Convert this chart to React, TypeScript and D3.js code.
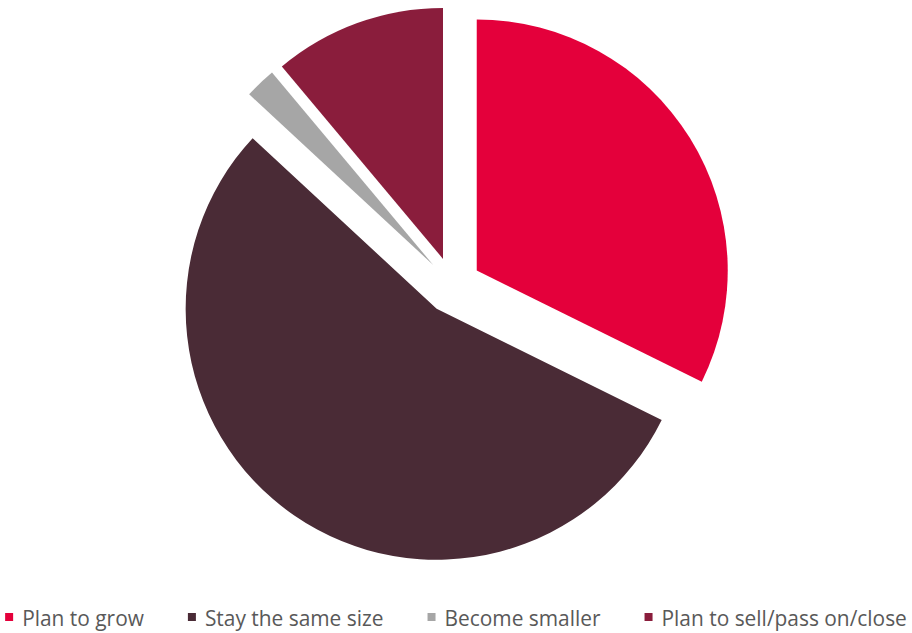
import React, { useMemo } from "react";
import * as d3 from "d3";

const categories = ["Plan to grow", "Stay the same size", "Become smaller", "Plan to sell/pass on/close"];
const values = [32.3, 54.6, 2.0, 11.1];
const colors = ["#E4003B", "#4A2B36", "#A6A6A6", "#8A1D3C"];

const W = 912;
const H = 633;
const CX = 452.7;
const CY = 285.5;
const R = 251;
const EXPLODE = 28.3;
const FONT = "Open Sans";
const FONT_SIZE = 20.9;

function measure(text: string): number {
  if (typeof document === "undefined") return text.length * 10;
  const c = document.createElement("canvas");
  const ctx = c.getContext("2d");
  if (!ctx) return text.length * 10;
  ctx.font = `${FONT_SIZE}px "${FONT}"`;
  return ctx.measureText(text).width;
}

export default function App() {
  const pie = d3.pie<number>().sort(null).value((d) => d).startAngle(0).endAngle(2 * Math.PI);
  const arcs = pie(values);
  const arc = d3.arc<d3.PieArcDatum<number>>().innerRadius(0).outerRadius(R);

  const legend = useMemo(() => {
    const sq = 8;
    const gapIn = 9;
    const gapOut = 44;
    const widths = categories.map((c) => measure(c));
    const total = widths.reduce((a, w) => a + sq + gapIn + w, 0) + gapOut * (categories.length - 1);
    let x = (W - total) / 2;
    return categories.map((c, i) => {
      const item = { x, w: widths[i], label: c, color: colors[i] };
      x += sq + gapIn + widths[i] + gapOut;
      return item;
    });
  }, []);

  return (
    <svg
      width={W}
      height={H}
      style={{ position: "absolute", left: 0, top: 0, background: "#fff" }}
    >
      <g transform={`translate(${CX},${CY})`}>
        {arcs.map((a, i) => {
          const mid = (a.startAngle + a.endAngle) / 2;
          const dx = EXPLODE * Math.sin(mid);
          const dy = -EXPLODE * Math.cos(mid);
          return (
            <path
              key={i}
              d={arc(a) || ""}
              fill={colors[i]}
              transform={`translate(${dx},${dy})`}
            />
          );
        })}
      </g>
      <g>
        {legend.map((l, i) => (
          <g key={i}>
            <rect x={l.x} y={613} width={8} height={8} fill={l.color} />
            <text
              x={l.x + 17}
              y={626}
              fontFamily={FONT}
              fontSize={FONT_SIZE}
              fill="#595959"
            >
              {l.label}
            </text>
          </g>
        ))}
      </g>
    </svg>
  );
}
